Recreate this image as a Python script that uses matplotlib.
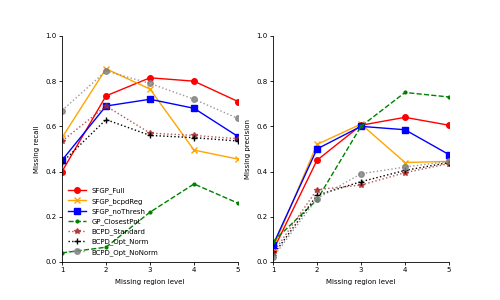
import matplotlib.pyplot as plt
import numpy as np

levels = [1, 2, 3, 4, 5]
names = ['SFGP_Full', 'SFGP_bcpdReg', 'SFGP_noThresh', 'GP_ClosestPnt',
         'BCPD_Standard', 'BCPD_Opt_Norm', 'BCPD_Opt_NoNorm']

recall_full = [0.40, 0.735, 0.815, 0.80, 0.71]
recall_bcpdreg = [0.55, 0.855, 0.765, 0.495, 0.455]
recall_nothresh = [0.45, 0.69, 0.72, 0.68, 0.555]
recall_gp = [0.04, 0.065, 0.22, 0.345, 0.26]
recall_bcpd_std = [0.535, 0.69, 0.57, 0.56, 0.545]
recall_bcpd_norm = [0.44, 0.63, 0.56, 0.55, 0.535]
recall_bcpd_nonorm = [0.67, 0.845, 0.79, 0.72, 0.635]

prec_full = [0.05, 0.45, 0.605, 0.64, 0.605]
prec_bcpdreg = [0.06, 0.52, 0.61, 0.44, 0.445]
prec_nothresh = [0.075, 0.50, 0.60, 0.585, 0.475]
prec_gp = [0.09, 0.275, 0.60, 0.75, 0.73]
prec_bcpd_std = [0.04, 0.32, 0.34, 0.395, 0.435]
prec_bcpd_norm = [0.03, 0.295, 0.355, 0.405, 0.44]
prec_bcpd_nonorm = [0.02, 0.28, 0.39, 0.42, 0.445]

recall = [recall_full, recall_bcpdreg, recall_nothresh, recall_gp,
          recall_bcpd_std, recall_bcpd_norm, recall_bcpd_nonorm]
precision = [prec_full, prec_bcpdreg, prec_nothresh, prec_gp,
             prec_bcpd_std, prec_bcpd_norm, prec_bcpd_nonorm]

styles = [
    dict(color='red', ls='-', marker='o', ms=4),
    dict(color='orange', ls='-', marker='x', ms=4),
    dict(color='blue', ls='-', marker='s', ms=4),
    dict(color='green', ls='--', marker='.', ms=4),
    dict(color='brown', ls=':', marker='*', ms=4, alpha=0.8),
    dict(color='black', ls=':', marker='+', ms=4),
    dict(color='gray', ls=':', marker='o', ms=4, alpha=0.8),
]

plt.rcParams['font.size'] = 5

fig = plt.figure(figsize=(5, 3), dpi=100)
ax1 = fig.add_axes([0.124, 0.127, 0.352, 0.753])
ax2 = fig.add_axes([0.546, 0.127, 0.352, 0.753])

for ax, data, ylabel in [(ax1, recall, 'Missing recall'), (ax2, precision, 'Missing precision')]:
    for name, vals, st in zip(names, data, styles):
        ax.plot(levels, vals, label=name, lw=1, **st)
    ax.set_xlim(1, 5)
    ax.set_ylim(0, 1.0)
    ax.set_xticks(levels)
    ax.set_yticks(np.arange(0, 1.01, 0.2))
    ax.set_xlabel('Missing region level')
    ax.set_ylabel(ylabel)
    ax.spines['top'].set_visible(False)
    ax.spines['right'].set_visible(False)
    ax.tick_params(length=2, width=0.6, pad=2)
    for s in ['left', 'bottom']:
        ax.spines[s].set_linewidth(0.6)

ax1.legend(loc='lower left', frameon=False, fontsize=5, handlelength=2.5)

fig.savefig('out.png', dpi=100)
